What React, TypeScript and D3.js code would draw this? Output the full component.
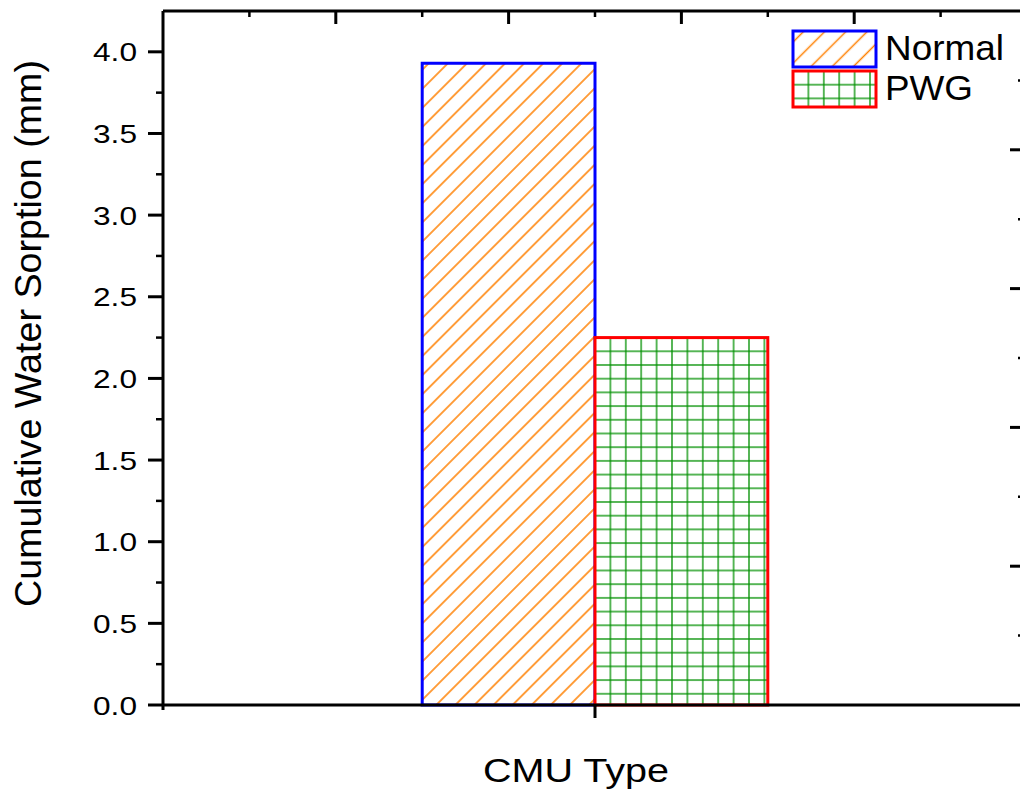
import React from "react";
import * as d3 from "d3";

// chart data
const categories = ["CMU Type"];
const seriesNames = ["Normal", "PWG"];
const sorptionValues = [3.93, 2.25];
const yTickValues = [0, 0.5, 1.0, 1.5, 2.0, 2.5, 3.0, 3.5, 4.0];
const yTickLabels = ["0.0", "0.5", "1.0", "1.5", "2.0", "2.5", "3.0", "3.5", "4.0"];
const yMinorValues = [0.25, 0.75, 1.25, 1.75, 2.25, 2.75, 3.25, 3.75];
const frameTicks = [1, 2, 3, 4, 5, 6, 7, 8, 9];

const W = 1020;
const H = 794;
const left = 163;
const right = 1027;
const top = 11;
const bottom = 705;
const FONT = "'Liberation Sans', Arial, sans-serif";

const strokeColors: Record<string, string> = { Normal: "#0000ff", PWG: "#ff0000" };

function Hatch({ id, x, y, size }: { id: string; x: number; y: number; size: number }) {
  return (
    <pattern id={id} patternUnits="userSpaceOnUse" x={x} y={y} width={size} height={size}
             patternTransform="rotate(45)">
      <rect width={size} height={size} fill="#fff" />
      <line x1={size / 2} y1={-1} x2={size / 2} y2={size + 1} stroke="#ff8000" strokeWidth={1.5} />
    </pattern>
  );
}

function Grid({ id, x, y, w, h }: { id: string; x: number; y: number; w: number; h: number }) {
  // lines sit at the center of each tile; offset by half a tile so they start at the bar edge
  return (
    <pattern id={id} patternUnits="userSpaceOnUse" x={x - w / 2} y={y - h / 2} width={w} height={h}>
      <rect width={w} height={h} fill="#fff" />
      <line x1={w / 2} y1={0} x2={w / 2} y2={h} stroke="#009000" strokeWidth={1.3} />
      <line x1={0} y1={h / 2} x2={w} y2={h / 2} stroke="#009000" strokeWidth={1.3} />
    </pattern>
  );
}

export default function App() {
  const y = d3.scaleLinear().domain([0, 4.25]).range([bottom, top]);
  const frameX = d3.scaleLinear().domain([0, 10]).range([left, right]);
  const frameY = d3.scaleLinear().domain([0, 10]).range([bottom, top]);
  const xBand = d3.scaleBand().domain(categories).range([left, right]).paddingInner(0).paddingOuter(0.75);
  const xSub = d3.scaleBand().domain(seriesNames).range([0, xBand.bandwidth()]).padding(0);

  const x0 = xBand(categories[0]) as number;
  const bars = seriesNames.map((s, i) => ({
    name: s,
    x: x0 + (xSub(s) as number),
    y: y(sorptionValues[i]),
    w: xSub.bandwidth(),
    h: bottom - y(sorptionValues[i]),
  }));
  const catCenter = x0 + xBand.bandwidth() / 2;

  const legendX = 793;
  const legendY = [31, 71];

  return (
    <svg width={W} height={H} style={{ position: "absolute", left: 0, top: 0, display: "block" }}
         fontFamily={FONT}>
      <defs>
        <Hatch id="hatchBar" x={bars[0].x} y={bars[0].y} size={13.5} />
        <Grid id="gridBar" x={bars[1].x} y={bars[1].y} w={15.4} h={13.7} />
        <Hatch id="hatchLeg" x={legendX} y={legendY[0]} size={15} />
        <Grid id="gridLeg" x={legendX} y={legendY[1]} w={15.4} h={13.7} />
      </defs>
      <rect width={W} height={H} fill="#fff" />

      {/* bars */}
      {bars.map((b, i) => (
        <rect key={b.name} x={b.x} y={b.y} width={b.w} height={b.h}
              fill={i === 0 ? "url(#hatchBar)" : "url(#gridBar)"}
              stroke={strokeColors[b.name]} strokeWidth={3} />
      ))}

      {/* frame: top and right axes */}
      <line x1={left} y1={top} x2={right} y2={top} stroke="#000" strokeWidth={3} />
      <line x1={right} y1={top} x2={right} y2={bottom} stroke="#000" strokeWidth={3} />
      {frameTicks.map(t => (
        <line key={"tt" + t} x1={frameX(t)} x2={frameX(t)} y1={top} y2={top + (t % 2 === 0 ? 13 : 6)}
              stroke="#000" strokeWidth={t % 2 === 0 ? 3 : 2.5} />
      ))}
      {frameTicks.map(t => (
        <line key={"rt" + t} x1={right} x2={right - (t % 2 === 0 ? 17 : 9)} y1={frameY(t)} y2={frameY(t)}
              stroke="#000" strokeWidth={t % 2 === 0 ? 3 : 2.5} />
      ))}

      {/* left axis */}
      <line x1={left} y1={top} x2={left} y2={bottom + 5} stroke="#000" strokeWidth={3} />
      {yTickValues.map((v, i) => (
        <g key={"yt" + i}>
          <line x1={left - 15} x2={left} y1={y(v)} y2={y(v)} stroke="#000" strokeWidth={3} />
          <text x={137} y={y(v) + 9.5} textAnchor="end" fontSize={26} textLength={44}
                lengthAdjust="spacingAndGlyphs" fill="#000">{yTickLabels[i]}</text>
        </g>
      ))}
      {yMinorValues.map(v => (
        <line key={"ym" + v} x1={left - 7} x2={left} y1={y(v)} y2={y(v)} stroke="#000" strokeWidth={2.5} />
      ))}

      {/* bottom axis */}
      <line x1={left} y1={bottom} x2={right} y2={bottom} stroke="#000" strokeWidth={3} />
      <line x1={catCenter} x2={catCenter} y1={bottom} y2={bottom + 13} stroke="#000" strokeWidth={3} />

      {/* axis titles */}
      <text x={576} y={782} textAnchor="middle" fontSize={33} textLength={186}
            lengthAdjust="spacingAndGlyphs" fill="#000">CMU Type</text>
      <text transform={`translate(41,${333.5}) rotate(-90)`} textAnchor="middle" fontSize={37}
            textLength={547} lengthAdjust="spacingAndGlyphs" fill="#000">
        Cumulative Water Sorption (mm)
      </text>

      {/* legend */}
      {seriesNames.map((s, i) => (
        <g key={"lg" + s}>
          <rect x={legendX} y={legendY[i]} width={83} height={36}
                fill={i === 0 ? "url(#hatchLeg)" : "url(#gridLeg)"}
                stroke={strokeColors[s]} strokeWidth={3} />
          <text x={885} y={legendY[i] + 29} fontSize={35} fill="#000"
                textLength={i === 0 ? 119 : 88} lengthAdjust="spacingAndGlyphs">{s}</text>
        </g>
      ))}
    </svg>
  );
}
